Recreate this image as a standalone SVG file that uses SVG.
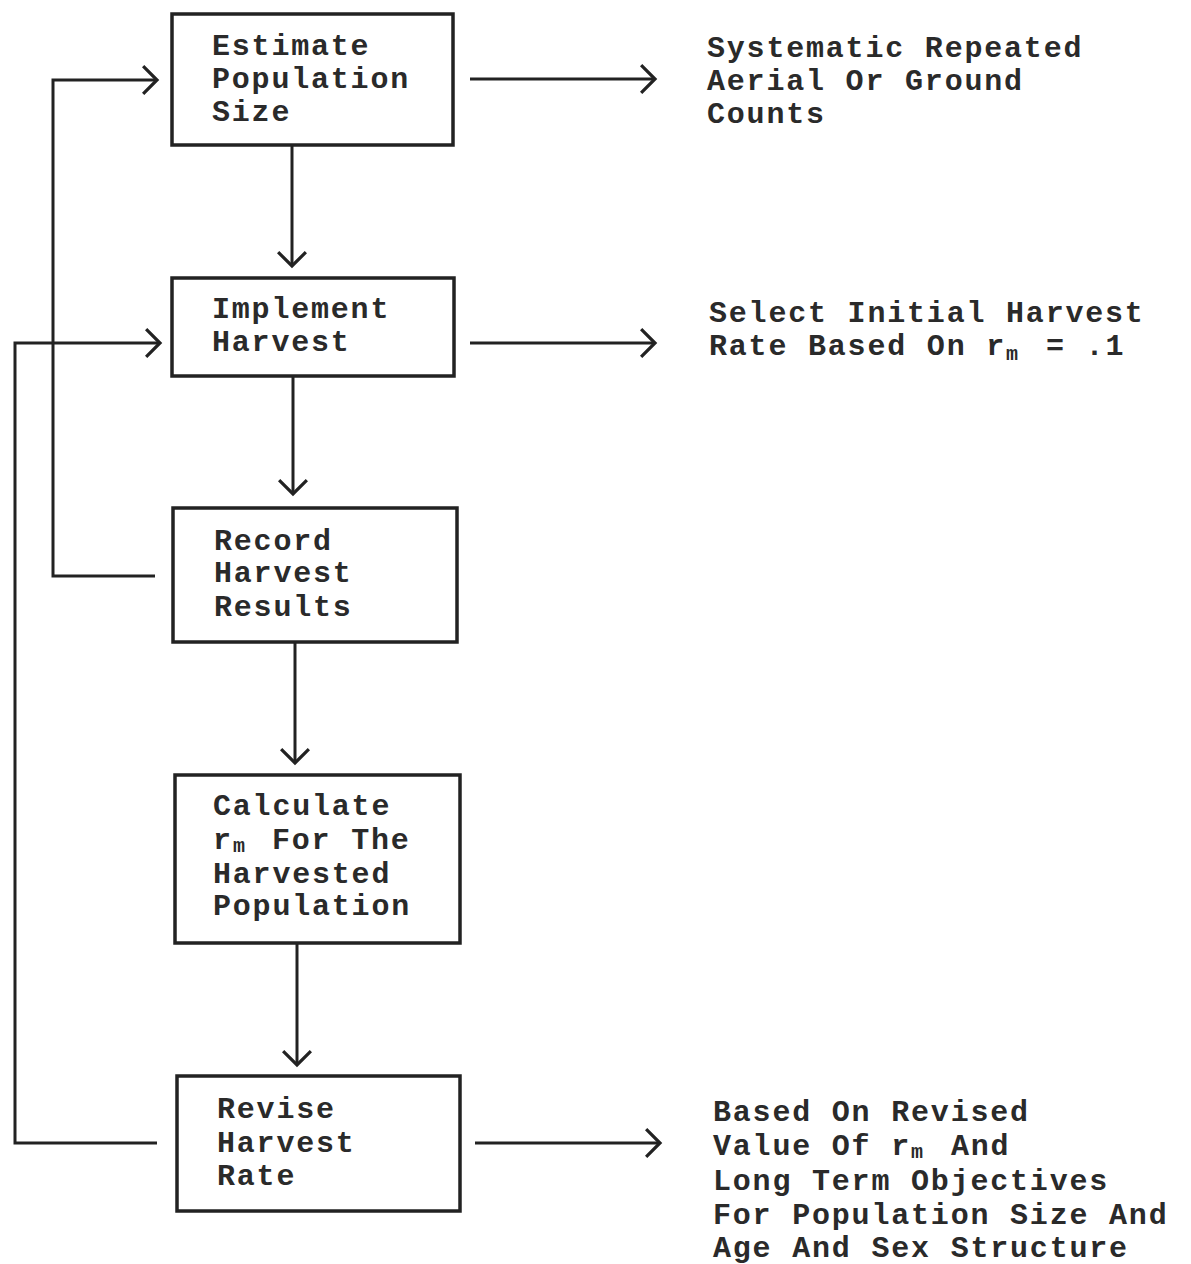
<svg xmlns="http://www.w3.org/2000/svg" width="1191" height="1264" viewBox="0 0 1191 1264">
<defs>
<style>
.box{fill:none;stroke:#222;stroke-width:3.5}
.t{font-family:"Liberation Mono","Courier New",monospace;font-weight:bold;font-size:30px;letter-spacing:1.8px;fill:#2a2a2a}
.sub{font-size:20px;letter-spacing:0}
.c{fill:none;stroke:#222;stroke-width:3}
</style>
<marker id="ah" markerUnits="userSpaceOnUse" markerWidth="20" markerHeight="32" viewBox="-2 -2 18 30" refX="13" refY="13" orient="auto">
<path d="M0,0 L13,13 L0,26" fill="none" stroke="#222" stroke-width="3"/>
</marker>
</defs>
<rect width="1191" height="1264" fill="#fff"/>
<g id="connectors">
<line class="c" x1="292" y1="145" x2="292" y2="266" marker-end="url(#ah)"/>
<line class="c" x1="293" y1="376" x2="293" y2="494" marker-end="url(#ah)"/>
<line class="c" x1="295" y1="642" x2="295" y2="763" marker-end="url(#ah)"/>
<line class="c" x1="297" y1="943" x2="297" y2="1065" marker-end="url(#ah)"/>
<line class="c" x1="470" y1="79" x2="655" y2="79" marker-end="url(#ah)"/>
<line class="c" x1="470" y1="343" x2="655" y2="343" marker-end="url(#ah)"/>
<line class="c" x1="475" y1="1143" x2="660" y2="1143" marker-end="url(#ah)"/>
<polyline class="c" points="155,576 53,576 53,80 157,80" marker-end="url(#ah)"/>
<polyline class="c" points="157,1143 15,1143 15,343 160,343" marker-end="url(#ah)"/>
</g>
<g id="estimate">
<rect class="box" x="172" y="14" width="281" height="131"/>
<text class="t" x="212" y="55">Estimate</text>
<text class="t" x="212" y="88">Population</text>
<text class="t" x="212" y="121">Size</text>
</g>
<g id="implement">
<rect class="box" x="172" y="278" width="282" height="98"/>
<text class="t" x="212" y="318">Implement</text>
<text class="t" x="212" y="351">Harvest</text>
</g>
<g id="record">
<rect class="box" x="173" y="508" width="284" height="134"/>
<text class="t" x="214" y="550">Record</text>
<text class="t" x="214" y="582">Harvest</text>
<text class="t" x="214" y="616">Results</text>
</g>
<g id="calculate">
<rect class="box" x="175" y="775" width="285" height="168"/>
<text class="t" x="213" y="815">Calculate</text>
<text class="t" x="213" y="849">r<tspan class="sub" x="233" y="852">m</tspan><tspan x="272" y="849">For The</tspan></text>
<text class="t" x="213" y="883">Harvested</text>
<text class="t" x="213" y="915">Population</text>
</g>
<g id="revise">
<rect class="box" x="177" y="1076" width="283" height="135"/>
<text class="t" x="217" y="1118">Revise</text>
<text class="t" x="217" y="1152">Harvest</text>
<text class="t" x="217" y="1185">Rate</text>
</g>
<g id="note-counts">
<text class="t" x="707" y="57">Systematic Repeated</text>
<text class="t" x="707" y="90">Aerial Or Ground</text>
<text class="t" x="707" y="123">Counts</text>
</g>
<g id="note-initial">
<text class="t" x="709" y="322">Select Initial Harvest</text>
<text class="t" x="709" y="355">Rate Based On r<tspan class="sub" x="1006" y="360">m</tspan><tspan x="1046" y="355">= .1</tspan></text>
</g>
<g id="note-revised">
<text class="t" x="713" y="1121">Based On Revised</text>
<text class="t" x="713" y="1155">Value Of r<tspan class="sub" x="911" y="1158">m</tspan><tspan x="951" y="1155">And</tspan></text>
<text class="t" x="713" y="1190">Long Term Objectives</text>
<text class="t" x="713" y="1224">For Population Size And</text>
<text class="t" x="713" y="1257">Age And Sex Structure</text>
</g>
</svg>
